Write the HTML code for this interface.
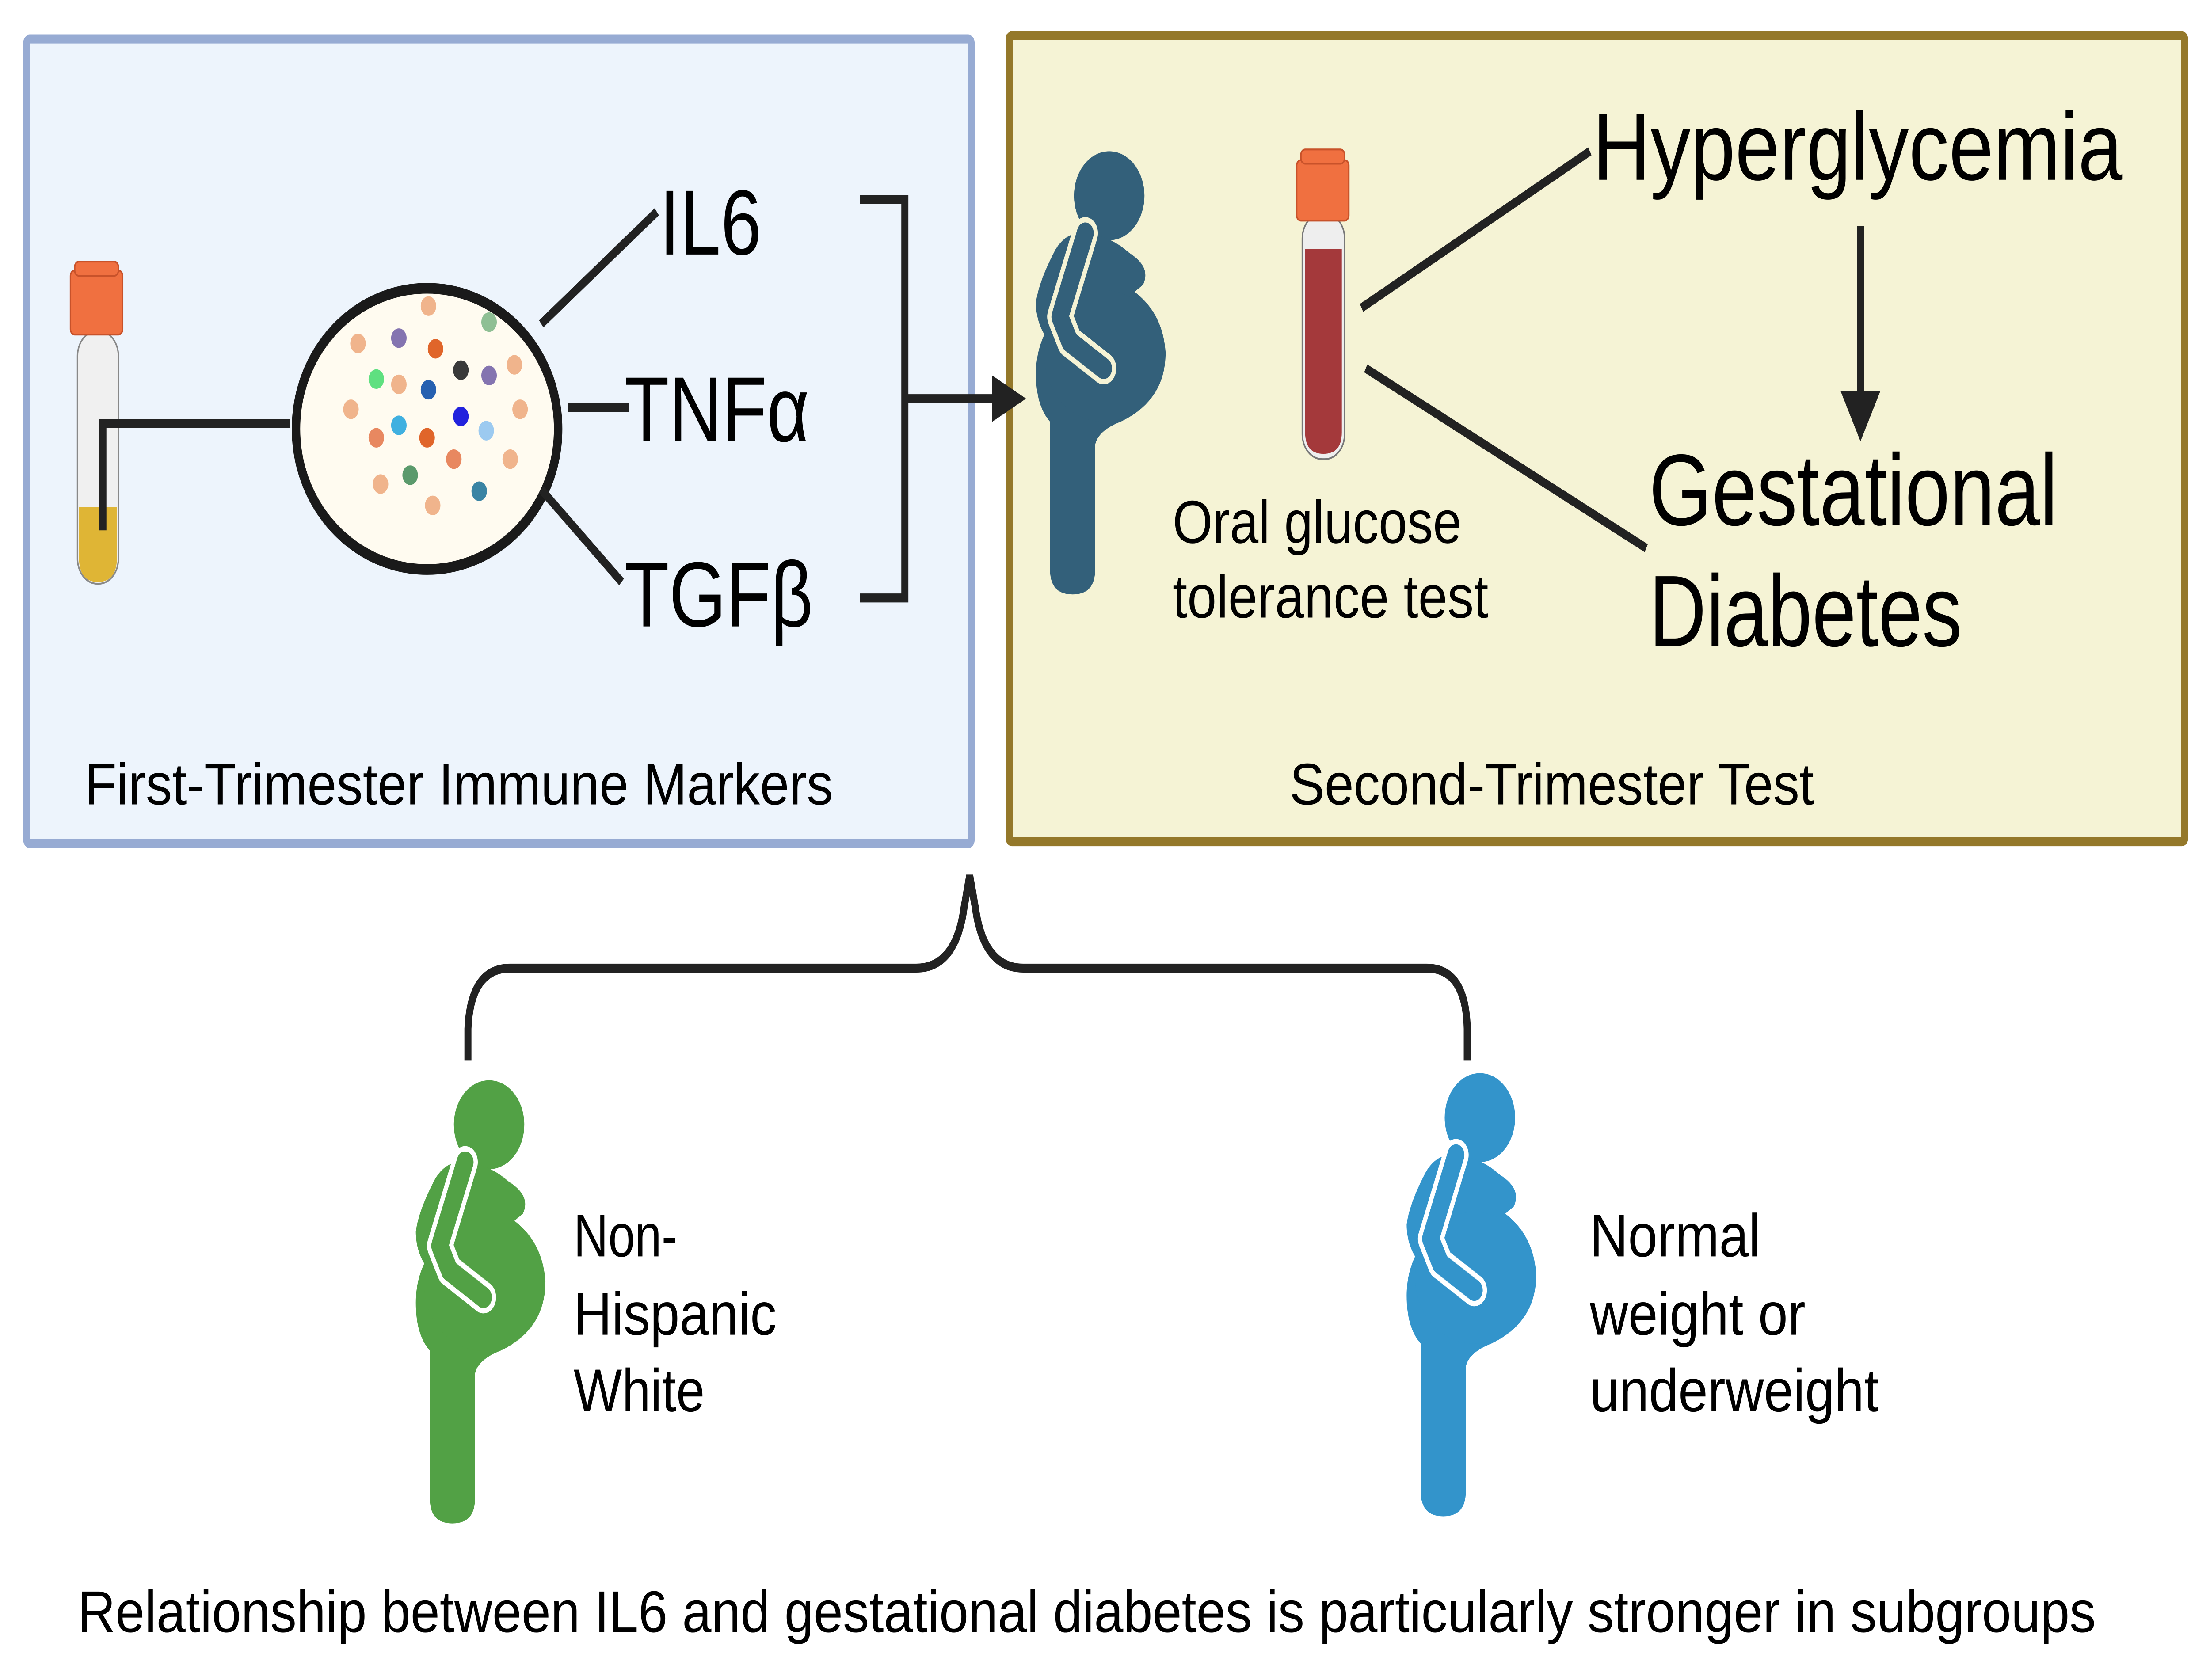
<!DOCTYPE html>
<html><head><meta charset="utf-8"><style>
html,body{margin:0;padding:0;background:#fff;overflow:hidden;width:100vw;height:100vh;}
svg{display:block;width:100vw;height:100vh;}
text{font-family:"Liberation Sans",sans-serif;fill:#000;}
</style></head><body>
<svg viewBox="0 0 1568 944" preserveAspectRatio="none" xmlns="http://www.w3.org/2000/svg">
<defs>
<g id="fig">
  <circle cx="0" cy="0" r="25"/>
  <path d="M-18,21 Q0,22 14,32 Q30,40 24,50 L18,54 Q38,66 40,88 Q40,115 8,127 Q-8,132 -10,140 L-10,210 Q-10,224 -26,224 Q-42,224 -42,210 L-42,127 Q-52,118 -52,100 Q-52,88 -46,78 Q-52,70 -52,60 Q-50,48 -38,30 Q-30,20 -18,21 Z"/>
  <ellipse cx="-4" cy="90" rx="42" ry="37"/>
</g>
</defs>
<rect width="1568" height="944" fill="#fff"/>
<rect x="19" y="22" width="670" height="452" fill="#edf4fc" stroke="#97abd3" stroke-width="5" rx="2"/>
<rect x="716" y="20" width="834" height="453" fill="#f5f3d5" stroke="#94782a" stroke-width="5" rx="2"/>

<rect x="55" y="186" width="29" height="142" rx="14" fill="#f0f0f0" stroke="#888" stroke-width="1"/>
<path d="M56,285 L83,285 L83,313 Q83,327 69.5,327 Q56,327 56,313 Z" fill="#dfb535"/>
<rect x="50" y="152" width="37" height="36" rx="3" fill="#f07040" stroke="#c8522a" stroke-width="1"/>
<rect x="53" y="147" width="31" height="8" rx="3" fill="#f07040" stroke="#c8522a" stroke-width="1"/>
<polyline points="73,298 73,238 206,238" fill="none" stroke="#222" stroke-width="5"/>

<ellipse cx="303" cy="241" rx="93" ry="79" fill="#fffbf0" stroke="#1a1a1a" stroke-width="6"/>
<g>
<circle cx="304" cy="172" r="5.5" fill="#f0b48c"/>
<circle cx="347" cy="181" r="5.5" fill="#8fbf94"/>
<circle cx="254" cy="193" r="5.5" fill="#f0b48c"/>
<circle cx="283" cy="190" r="5.5" fill="#8474b0"/>
<circle cx="309" cy="196" r="5.5" fill="#e0652a"/>
<circle cx="327" cy="208" r="5.5" fill="#3a3a3a"/>
<circle cx="347" cy="211" r="5.5" fill="#8474b0"/>
<circle cx="365" cy="205" r="5.5" fill="#f0b48c"/>
<circle cx="267" cy="213" r="5.5" fill="#5fe080"/>
<circle cx="283" cy="216" r="5.5" fill="#f0b48c"/>
<circle cx="304" cy="219" r="5.5" fill="#2660b0"/>
<circle cx="249" cy="230" r="5.5" fill="#f0b48c"/>
<circle cx="327" cy="234" r="5.5" fill="#2222dd"/>
<circle cx="369" cy="230" r="5.5" fill="#f0b48c"/>
<circle cx="283" cy="239" r="5.5" fill="#40b0e0"/>
<circle cx="345" cy="242" r="5.5" fill="#9ccaf0"/>
<circle cx="267" cy="246" r="5.5" fill="#e88860"/>
<circle cx="303" cy="246" r="5.5" fill="#e0652a"/>
<circle cx="322" cy="258" r="5.5" fill="#e88860"/>
<circle cx="362" cy="258" r="5.5" fill="#f0b48c"/>
<circle cx="270" cy="272" r="5.5" fill="#f0b48c"/>
<circle cx="291" cy="267" r="5.5" fill="#5b9a6c"/>
<circle cx="340" cy="276" r="5.5" fill="#3a84a4"/>
<circle cx="307" cy="284" r="5.5" fill="#f0b48c"/>
</g>
<g stroke="#222" stroke-width="5" fill="none">
<line x1="384" y1="182" x2="466" y2="119"/>
<line x1="403" y1="229" x2="446" y2="229"/>
<line x1="384" y1="275" x2="441" y2="327"/>
<polyline points="610,112 642,112 642,336 610,336"/>
<line x1="642" y1="224" x2="704" y2="224"/>
</g>
<polygon points="704,211 728,224 704,237" fill="#222"/>
<text x="468" y="143" font-size="52">IL6</text>
<text x="443" y="248" font-size="52">TNFα</text>
<text x="443" y="352" font-size="52">TGFβ</text>
<text x="60" y="452" font-size="33" textLength="531" lengthAdjust="spacingAndGlyphs">First-Trimester Immune Markers</text>

<g fill="#33607a" transform="translate(787,110)"><use href="#fig"/></g>
<path d="M770,131 L752,178 L759,192 L783,207" fill="none" stroke="#f5f3d5" stroke-width="18" stroke-linecap="round" stroke-linejoin="round"/>
<path d="M770,131 L752,178 L759,192 L783,207" fill="none" stroke="#33607a" stroke-width="12" stroke-linecap="round" stroke-linejoin="round"/>

<rect x="924" y="120" width="30" height="138" rx="14" fill="#eee" stroke="#777" stroke-width="1"/>
<path d="M926,140 L952,140 L952,243 Q952,255 939,255 Q926,255 926,243 Z" fill="#a4393b"/>
<rect x="920" y="90" width="37" height="34" rx="3" fill="#f07040" stroke="#c8522a" stroke-width="1"/>
<rect x="923" y="84" width="31" height="8" rx="3" fill="#f07040" stroke="#c8522a" stroke-width="1"/>
<g stroke="#222" stroke-width="5" fill="none">
<line x1="966" y1="173" x2="1128" y2="85"/>
<line x1="969" y1="207" x2="1168" y2="308"/>
<line x1="1320" y1="127" x2="1320" y2="222"/>
</g>
<polygon points="1306,220 1334,220 1320,248" fill="#222"/>
<text x="1130" y="101" font-size="54" textLength="376" lengthAdjust="spacingAndGlyphs">Hyperglycemia</text>
<text x="1170" y="295" font-size="57" textLength="290" lengthAdjust="spacingAndGlyphs">Gestational</text>
<text x="1170" y="363" font-size="57" textLength="222" lengthAdjust="spacingAndGlyphs">Diabetes</text>
<text x="832" y="305" font-size="34" textLength="205" lengthAdjust="spacingAndGlyphs">Oral glucose</text>
<text x="832" y="347" font-size="34" textLength="224" lengthAdjust="spacingAndGlyphs">tolerance test</text>
<text x="915" y="452" font-size="33" textLength="372" lengthAdjust="spacingAndGlyphs">Second-Trimester Test</text>

<path d="M332,596 L332,578 Q334,544 362,544 L650,544 Q678,544 684,510 L688,492 L692,510 Q698,544 726,544 L1012,544 Q1040,544 1041,578 L1041,596" fill="none" stroke="#222" stroke-width="5"/>

<g fill="#52a145" transform="translate(347,632)"><use href="#fig"/></g>
<path d="M330,653 L312,700 L319,714 L343,729" fill="none" stroke="#fff" stroke-width="18" stroke-linecap="round" stroke-linejoin="round"/>
<path d="M330,653 L312,700 L319,714 L343,729" fill="none" stroke="#52a145" stroke-width="12" stroke-linecap="round" stroke-linejoin="round"/>

<g fill="#3394cb" transform="translate(1050,628)"><use href="#fig"/></g>
<path d="M1033,649 L1015,696 L1022,710 L1046,725" fill="none" stroke="#fff" stroke-width="18" stroke-linecap="round" stroke-linejoin="round"/>
<path d="M1033,649 L1015,696 L1022,710 L1046,725" fill="none" stroke="#3394cb" stroke-width="12" stroke-linecap="round" stroke-linejoin="round"/>

<text x="407" y="706" font-size="34">Non-</text>
<text x="407" y="750" font-size="34" textLength="144" lengthAdjust="spacingAndGlyphs">Hispanic</text>
<text x="407" y="793" font-size="34" textLength="93" lengthAdjust="spacingAndGlyphs">White</text>
<text x="1128" y="706" font-size="34" textLength="121" lengthAdjust="spacingAndGlyphs">Normal</text>
<text x="1128" y="750" font-size="34" textLength="153" lengthAdjust="spacingAndGlyphs">weight or</text>
<text x="1128" y="793" font-size="34" textLength="205" lengthAdjust="spacingAndGlyphs">underweight</text>

<text x="55" y="917" font-size="33" textLength="1432" lengthAdjust="spacingAndGlyphs">Relationship between IL6 and gestational diabetes is particularly stronger in subgroups</text>
</svg>
</body></html>
